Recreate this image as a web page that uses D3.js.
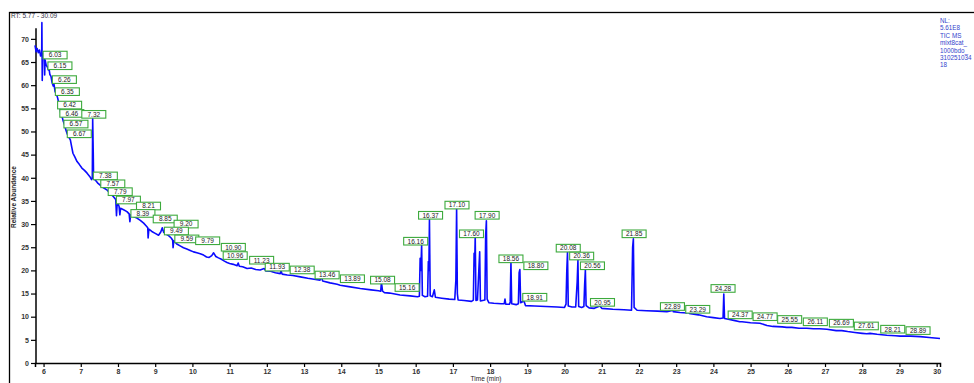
<!DOCTYPE html>
<html>
<meta charset="utf-8">
<style>
  body { margin: 0; background: #fff; }
  svg { display: block; font-family: "Liberation Sans", Arial, sans-serif; }
</style>
<body>
<svg width="974" height="383"></svg>
<script src="https://d3js.org/d3.v7.min.js"></script>
<script>
// chromatogram trace, [time (min), relative abundance]
const trace = [
  [5.77,68.6],[5.80,67.2],[5.83,67.9],[5.86,67.0],[5.89,67.6],[5.92,66.3],[5.95,66.8],
  [5.955,73.5],[5.965,61],[5.975,66.5],
  [6.00,66.9],[6.02,66.2],[6.03,62.2],[6.04,65.5],[6.07,64.3],[6.10,64],[6.13,63.3],[6.15,63.4],
  [6.17,62.3],[6.20,61.9],[6.23,60.5],[6.26,59.8],[6.28,60.2],[6.31,58.6],[6.35,58.0],[6.38,57.2],
  [6.42,55.7],[6.45,54.6],[6.47,53.5],[6.50,53.1],[6.53,52.2],[6.57,51.3],[6.60,50.3],[6.63,49.6],
  [6.67,48.9],[6.72,48.2],[6.76,46.5],[6.79,45.3],[6.84,44.5],[6.90,43.5],[6.96,42.9],[7.03,42.1],
  [7.10,41.6],[7.17,41.0],[7.24,40.3],[7.29,39.6],[7.31,40],[7.32,52.8],[7.335,45.5],[7.345,39.8],
  [7.39,39.5],[7.45,38.9],[7.52,38.4],[7.60,37.9],[7.70,37.4],[7.79,36.6],[7.88,35.9],[7.94,35.3],
  [7.96,31.8],[7.98,34.8],[8.03,33.8],[8.05,32],[8.07,33.4],[8.15,33.1],[8.24,32.7],[8.30,32.2],
  [8.32,30.5],[8.34,32],[8.42,31.6],[8.51,31.3],[8.60,30.8],[8.69,30.2],[8.76,29.6],[8.80,29.2],
  [8.81,27],[8.83,28.9],[8.91,28.4],[9.00,28.0],[9.09,27.6],[9.15,28.3],[9.19,29.2],[9.23,28.2],
  [9.30,27.8],[9.36,27.5],[9.43,27.0],[9.47,26.5],[9.48,24.9],[9.50,26.4],[9.58,25.7],[9.67,25.3],
  [9.76,24.9],[9.85,24.6],[9.94,24.3],[10.03,24.0],[10.12,23.8],[10.21,23.6],[10.30,23.3],[10.38,22.9],
  [10.45,22.8],[10.52,23.2],[10.57,23.8],[10.63,23.0],[10.70,22.7],[10.78,22.4],[10.86,22.0],[10.93,21.7],
  [11.00,21.5],[11.10,21.3],[11.20,21.0],[11.23,21.6],[11.26,20.9],[11.35,20.8],[11.47,20.4],[11.58,20.5],
  [11.70,20.2],[11.82,20.1],[11.93,20.4],[11.97,19.9],[12.10,19.8],[12.23,19.5],[12.36,19.3],[12.38,19.9],
  [12.41,19.2],[12.55,19.0],[12.70,18.9],[12.90,18.6],[13.10,18.3],[13.27,18.1],[13.43,17.9],[13.46,18.8],
  [13.50,17.7],[13.70,17.3],[13.89,17.0],[13.97,16.8],[14.20,16.5],[14.51,16.1],[14.80,15.8],[15.00,15.6],
  [15.06,15.5],[15.08,17.4],[15.11,15.5],[15.16,15.2],[15.30,15.1],[15.58,14.7],[15.85,14.5],[16.05,14.3],
  [16.10,14.4],[16.12,22.6],[16.14,20],[16.16,25.5],[16.18,14.6],[16.25,14.3],[16.32,14.4],[16.34,21.9],
  [16.355,20],[16.37,31.0],[16.39,14.5],[16.45,14.3],[16.50,15.8],[16.53,14.2],[16.70,14.0],[16.90,13.8],
  [17.05,13.7],[17.08,17.9],[17.10,33.4],[17.12,15.0],[17.14,13.6],[17.30,13.5],[17.50,13.3],[17.55,13.6],
  [17.57,23.7],[17.585,21],[17.60,27.3],[17.62,13.5],[17.66,13.6],[17.72,24.0],[17.74,13.4],[17.80,13.5],
  [17.86,13.6],[17.88,27.4],[17.90,30.7],[17.92,13.8],[17.97,13.0],[18.10,12.9],[18.30,12.8],[18.38,12.8],
  [18.40,13.8],[18.42,12.7],[18.52,12.7],[18.54,13.2],[18.56,21.7],[18.58,12.8],[18.70,12.6],[18.76,12.8],
  [18.78,19.5],[18.80,20.2],[18.82,13.0],[18.91,13.4],[18.95,12.4],[19.20,12.3],[19.50,12.2],[19.80,12.1],
  [20.00,12.0],[20.04,12.7],[20.06,19.7],[20.08,23.9],[20.10,12.3],[20.20,12.1],[20.30,12.1],[20.34,17.5],
  [20.36,22.2],[20.38,12.2],[20.46,12.0],[20.52,12.2],[20.54,16.8],[20.56,20.1],[20.58,12.4],[20.66,11.9],
  [20.80,11.8],[20.95,12.3],[21.00,11.8],[21.30,11.6],[21.60,11.5],[21.80,11.4],[21.83,25.0],[21.85,26.8],
  [21.87,12.0],[21.95,11.4],[22.20,11.3],[22.50,11.2],[22.75,11.1],[22.87,11.3],[22.89,11.9],[22.92,11.1],
  [23.10,10.9],[23.29,10.8],[23.32,11.2],[23.35,10.7],[23.60,10.4],[23.82,10.0],[24.00,9.8],[24.18,9.6],
  [24.26,9.7],[24.28,14.9],[24.30,9.6],[24.37,9.5],[24.55,9.2],[24.71,8.9],[24.77,8.9],[25.00,8.7],
  [25.25,8.6],[25.44,8.1],[25.60,7.9],[25.85,7.8],[25.97,7.7],[26.11,7.7],[26.30,7.5],[26.51,7.5],
  [26.69,7.4],[26.85,7.4],[27.05,7.3],[27.30,7.0],[27.45,7.0],[27.61,6.8],[27.80,6.6],[28.00,6.4],
  [28.12,6.3],[28.21,6.4],[28.40,6.2],[28.66,6.0],[28.89,5.9],[29.02,5.8],[29.30,5.8],[29.56,5.7],
  [29.80,5.5],[30.09,5.3]
];

// peak labels: text, time and abundance where the flag sits
const peakText = ["6.03","6.15","6.26","6.35","6.42","6.46","7.32","6.57","6.67","7.38","7.57","7.79",
  "7.97","8.21","8.39","8.85","9.20","9.49","9.59","9.79","10.90","10.96","11.23","11.93","12.38",
  "13.46","13.89","15.08","15.16","16.16","16.37","17.10","17.60","17.90","18.56","18.80","18.91",
  "20.08","20.36","20.56","20.95","21.85","22.89","23.29","24.28","24.37","24.77","25.55","26.11",
  "26.69","27.61","28.21","28.89"];
const peakT = [6.31,6.44,6.56,6.64,6.70,6.76,7.35,6.87,6.96,7.66,7.86,8.06,
  8.28,8.82,8.67,9.27,9.83,9.57,9.85,10.41,11.10,11.15,11.86,12.28,12.95,
  13.62,14.30,15.11,15.77,16.00,16.40,17.11,17.50,17.92,18.56,19.23,19.20,
  20.10,20.46,20.75,21.02,21.87,22.90,23.58,24.26,24.72,25.39,26.05,26.74,
  27.44,28.11,28.82,29.50];
const peakV = [66.5,64.2,61.2,58.6,55.7,53.9,53.7,51.6,49.5,40.4,38.7,37.0,
  35.2,33.9,32.3,31.1,30.0,28.5,26.8,26.4,25.0,23.2,22.2,20.7,20.1,
  19.0,18.2,17.9,16.3,26.3,31.9,34.1,27.9,31.9,22.5,21.0,14.2,
  24.8,23.1,21.0,13.1,27.9,12.2,11.6,16.1,10.4,10.0,9.4,8.9,
  8.6,8.0,7.3,7.0];

const infoLines = ["NL:", "5.61E8", "TIC  MS", "mixt8cat_", "1000bdo_", "310251034", "18"];

const svg = d3.select("svg");
const x = d3.scaleLinear().domain([5.77, 30.09]).range([35, 940]);
const y = d3.scaleLinear().domain([0, 72]).range([363, 29.6]);

// outer frame
svg.append("rect")
  .attr("x", 9.5).attr("y", 12.5)
  .attr("width", 980).attr("height", 400)
  .attr("fill", "none").attr("stroke", "#000").attr("stroke-width", 1.3);

svg.append("text")
  .attr("x", 11).attr("y", 18)
  .attr("font-size", 6.5).attr("fill", "#334")
  .text("RT: 5.77 - 30.09");

// axes
const xAxis = d3.axisBottom(x)
  .tickValues(d3.range(6, 30.01, 1))
  .tickSize(4).tickPadding(2)
  .tickFormat(d3.format("d"));
const xMinor = d3.axisBottom(x)
  .tickValues(d3.range(5.8, 30.09, 0.2).filter(d => Math.abs(d - Math.round(d)) > 0.01))
  .tickSize(3).tickFormat("");
const yAxis = d3.axisLeft(y)
  .tickValues(d3.range(0, 71, 5))
  .tickSize(5).tickPadding(2);
const yMinor = d3.axisLeft(y)
  .tickValues(d3.range(0, 73, 1).filter(d => d % 5 !== 0))
  .tickSize(3).tickFormat("");

const gx = svg.append("g").attr("transform", "translate(0,363)");
gx.call(xMinor);
gx.call(xAxis);
const gy = svg.append("g").attr("transform", "translate(36,0)");
gy.call(yMinor);
gy.call(yAxis);

svg.selectAll(".domain").attr("stroke-width", 1.5).attr("stroke", "#000");
svg.selectAll(".tick line").attr("stroke-width", 1.2).attr("stroke", "#000");
svg.selectAll(".tick text")
  .attr("font-size", 7).attr("font-weight", "bold").attr("fill", "#333")
  .attr("font-family", "Liberation Sans, Arial, sans-serif");
gy.select(".domain").attr("d", "M0," + y(72.3) + "V363");

svg.append("text")
  .attr("transform", "translate(16,197) rotate(-90)")
  .attr("text-anchor", "middle")
  .attr("font-size", 6.5).attr("font-weight", "bold").attr("fill", "#222")
  .text("Relative Abundance");

svg.append("text")
  .attr("x", 486).attr("y", 381)
  .attr("text-anchor", "middle")
  .attr("font-size", 6.5).attr("fill", "#222")
  .text("Time (min)");

// chromatogram
const line = d3.line().x(d => x(d[0])).y(d => y(d[1]));
svg.append("path")
  .datum(trace)
  .attr("d", line)
  .attr("fill", "none")
  .attr("stroke", "#0a0aff")
  .attr("stroke-width", 1.6)
  .attr("stroke-linejoin", "round");

// peak flags
const flags = svg.append("g").selectAll("g")
  .data(peakText.map((t, i) => ({ text: t, t: peakT[i], v: peakV[i] })))
  .join("g")
  .attr("transform", d => `translate(${x(d.t)},${y(d.v)})`);
flags.append("rect")
  .attr("x", -12).attr("y", -3.8)
  .attr("width", 24).attr("height", 7.6)
  .attr("fill", "#fff").attr("stroke", "#3daa3d").attr("stroke-width", 1.1);
flags.append("text")
  .attr("text-anchor", "middle").attr("y", 2.3)
  .attr("font-size", 6.5).attr("fill", "#222")
  .text(d => d.text);

// info block at the top right
svg.append("g").selectAll("text")
  .data(infoLines)
  .join("text")
  .attr("x", 940)
  .attr("y", (d, i) => 23 + i * 7.4)
  .attr("font-size", 6.3).attr("fill", "#3344cc")
  .text(d => d);
</script>
</body>
</html>
